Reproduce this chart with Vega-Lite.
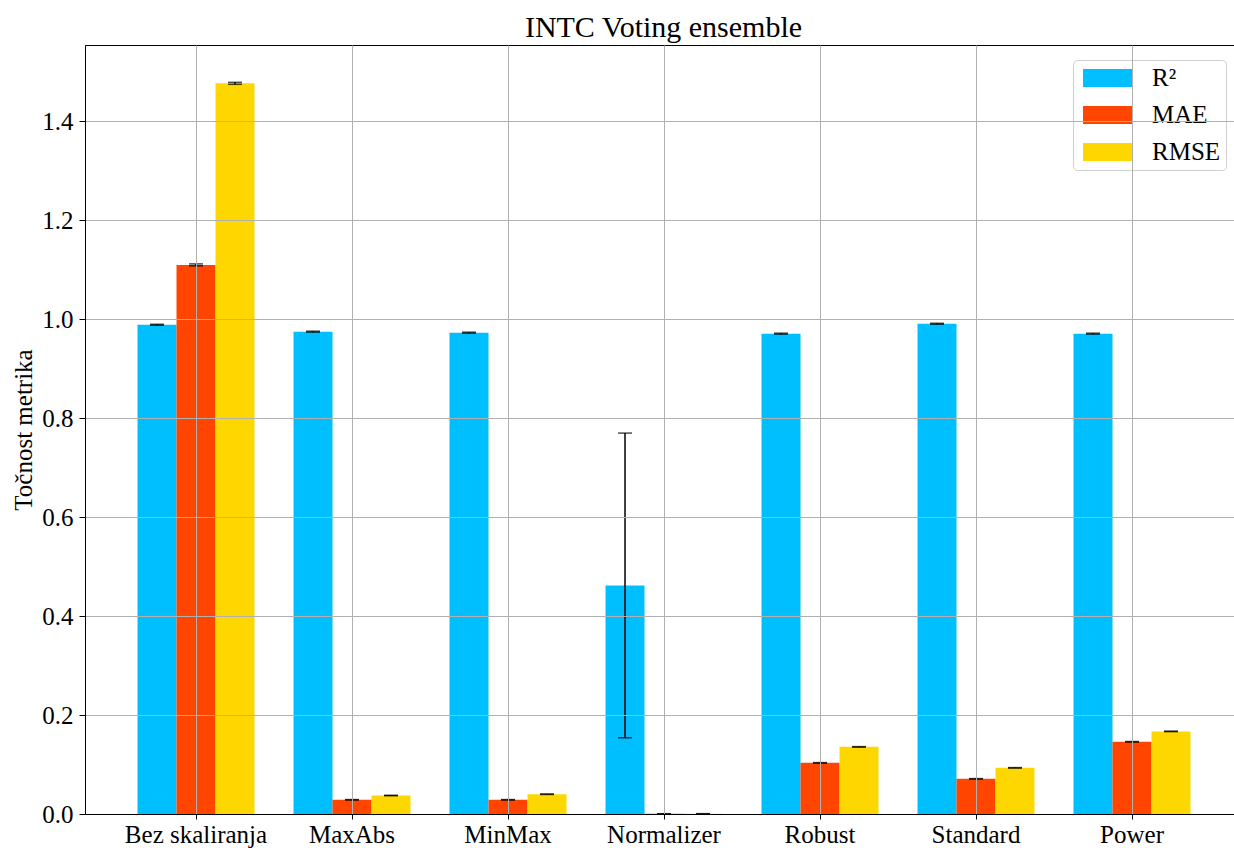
{
  "$schema": "https://vega.github.io/schema/vega-lite/v6.json",
  "width": 1149,
  "height": 769,
  "autosize": "none",
  "padding": {"left": 85, "top": 45, "right": 0, "bottom": 34},
  "background": "white",
  "title": {"text": "INTC Voting ensemble", "font": "Liberation Serif", "fontSize": 30, "fontWeight": "normal", "color": "black", "offset": 2, "dx": 4},
  "data": {"values": [
    {"scaler": "Bez skaliranja", "metric": "R²", "value": 0.989, "err": 0.001},
    {"scaler": "Bez skaliranja", "metric": "MAE", "value": 1.110, "err": 0.002},
    {"scaler": "Bez skaliranja", "metric": "RMSE", "value": 1.477, "err": 0.002},
    {"scaler": "MaxAbs", "metric": "R²", "value": 0.975, "err": 0.001},
    {"scaler": "MaxAbs", "metric": "MAE", "value": 0.0287, "err": 0.0005},
    {"scaler": "MaxAbs", "metric": "RMSE", "value": 0.0374, "err": 0.0005},
    {"scaler": "MinMax", "metric": "R²", "value": 0.973, "err": 0.001},
    {"scaler": "MinMax", "metric": "MAE", "value": 0.0287, "err": 0.0005},
    {"scaler": "MinMax", "metric": "RMSE", "value": 0.040, "err": 0.0005},
    {"scaler": "Normalizer", "metric": "R²", "value": 0.462, "err": 0.308},
    {"scaler": "Normalizer", "metric": "MAE", "value": 0.0004, "err": 0.0002},
    {"scaler": "Normalizer", "metric": "RMSE", "value": 0.0005, "err": 0.0002},
    {"scaler": "Robust", "metric": "R²", "value": 0.971, "err": 0.001},
    {"scaler": "Robust", "metric": "MAE", "value": 0.1034, "err": 0.0005},
    {"scaler": "Robust", "metric": "RMSE", "value": 0.1357, "err": 0.0005},
    {"scaler": "Standard", "metric": "R²", "value": 0.991, "err": 0.001},
    {"scaler": "Standard", "metric": "MAE", "value": 0.0711, "err": 0.0005},
    {"scaler": "Standard", "metric": "RMSE", "value": 0.0933, "err": 0.0005},
    {"scaler": "Power", "metric": "R²", "value": 0.971, "err": 0.001},
    {"scaler": "Power", "metric": "MAE", "value": 0.146, "err": 0.0005},
    {"scaler": "Power", "metric": "RMSE", "value": 0.167, "err": 0.0005}
  ]},
  "encoding": {
    "x": {
      "field": "scaler", "type": "nominal",
      "sort": ["Bez skaliranja", "MaxAbs", "MinMax", "Normalizer", "Robust", "Standard", "Power"],
      "scale": {"paddingInner": 0.25, "paddingOuter": 0.3077, "align": 0.547},
      "axis": {"title": null, "labelAngle": 0, "bandPosition": 0.5, "grid": true, "gridColor": "#b0b0b0", "gridWidth": 1,
        "labelFont": "Liberation Serif", "labelFontSize": 25, "labelColor": "black", "labelPadding": 3,
        "tickSize": 5, "tickColor": "black", "domainColor": "black", "zindex": 1}
    },
    "xOffset": {"field": "metric", "type": "nominal", "sort": ["R²", "MAE", "RMSE"]},
    "y": {
      "field": "value", "type": "quantitative",
      "scale": {"domain": [0, 1.5545], "nice": false, "zero": true},
      "axis": {"title": "Točnost metrika", "values": [0, 0.2, 0.4, 0.6, 0.8, 1.0, 1.2, 1.4], "format": ".1f",
        "grid": true, "gridColor": "#b0b0b0", "gridWidth": 1,
        "labelFont": "Liberation Serif", "labelFontSize": 25, "labelColor": "black", "labelPadding": 6,
        "titleFont": "Liberation Serif", "titleFontSize": 25, "titleFontWeight": "normal", "titleColor": "black", "titlePadding": 5,
        "tickSize": 6, "tickColor": "black", "domainColor": "black", "zindex": 1}
    }
  },
  "layer": [
    {
      "mark": {"type": "bar"},
      "encoding": {
        "color": {
          "field": "metric", "type": "nominal", "sort": ["R²", "MAE", "RMSE"],
          "scale": {"domain": ["R²", "MAE", "RMSE"], "range": ["#00BFFF", "#FF4500", "#FFD700"]},
          "legend": {
            "title": null, "orient": "none", "legendX": 988, "legendY": 15,
            "fillColor": "white", "strokeColor": "#d0d0d0", "cornerRadius": 4, "padding": 5,
            "symbolType": "M-0.615,-0.69L3.154,-0.69L3.154,0.69L-0.615,0.69Z",
            "symbolSize": 676, "symbolStrokeWidth": 0, "symbolOpacity": 1,
            "labelFont": "Liberation Serif", "labelFontSize": 25, "labelColor": "black", "labelOffset": 48,
            "rowPadding": 11
          }
        }
      }
    },
    {
      "mark": {"type": "errorbar", "color": "black", "thickness": 1.5, "ticks": {"size": 14, "thickness": 1.5, "color": "black"}},
      "encoding": {
        "yError": {"field": "err"}
      }
    }
  ],
  "config": {
    "view": {"stroke": "black", "strokeWidth": 1},
    "axis": {"labelFont": "Liberation Serif"}
  }
}
